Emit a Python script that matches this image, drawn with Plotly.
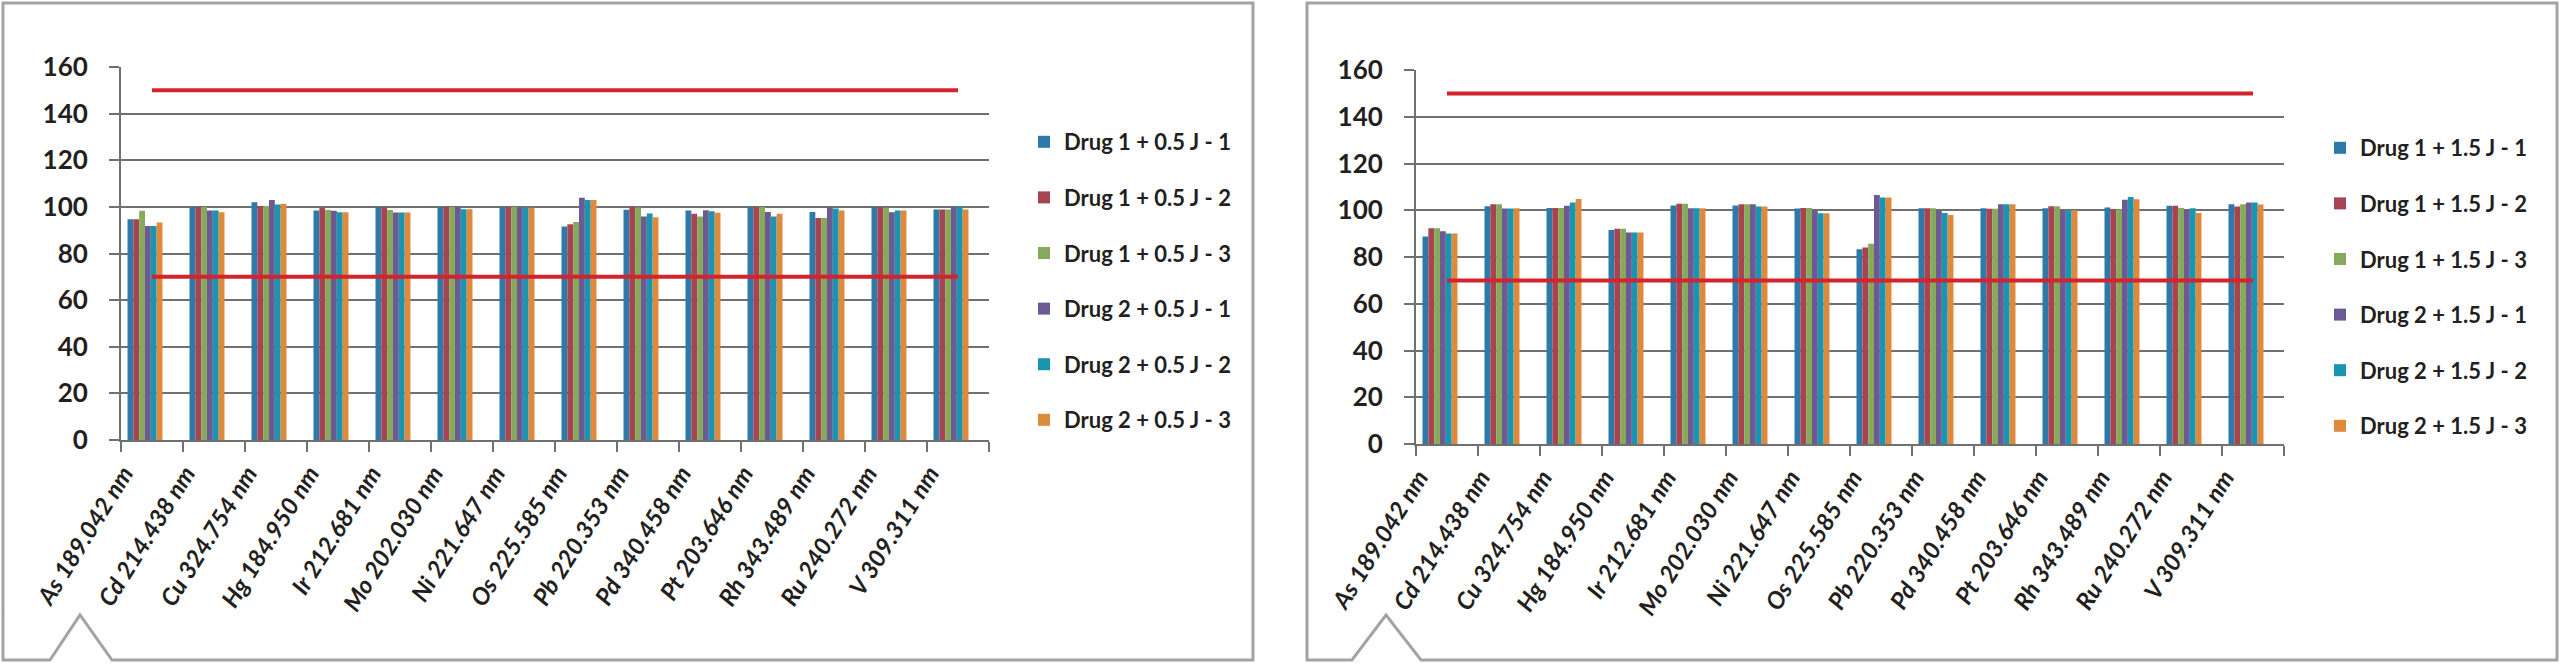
import plotly.graph_objects as go

W, H = 2560, 664

categories = ["As 189.042 nm", "Cd 214.438 nm", "Cu 324.754 nm", "Hg 184.950 nm",
              "Ir 212.681 nm", "Mo 202.030 nm", "Ni 221.647 nm", "Os 225.585 nm",
              "Pb 220.353 nm", "Pd 340.458 nm", "Pt 203.646 nm", "Rh 343.489 nm",
              "Ru 240.272 nm", "V 309.311 nm"]

names_left = ["Drug 1 + 0.5 J - 1", "Drug 1 + 0.5 J - 2", "Drug 1 + 0.5 J - 3",
              "Drug 2 + 0.5 J - 1", "Drug 2 + 0.5 J - 2", "Drug 2 + 0.5 J - 3"]
names_right = ["Drug 1 + 1.5 J - 1", "Drug 1 + 1.5 J - 2", "Drug 1 + 1.5 J - 3",
               "Drug 2 + 1.5 J - 1", "Drug 2 + 1.5 J - 2", "Drug 2 + 1.5 J - 3"]

# left panel (0.5 J)
d1_05_1 = [94.7, 100.0, 102.0, 98.4, 100.0, 100.0, 100.0, 91.6, 98.8, 98.4, 100.0, 97.8, 100.0, 98.9]
d1_05_2 = [94.7, 100.0, 100.4, 99.6, 100.0, 100.0, 100.0, 92.5, 100.0, 97.1, 100.0, 95.2, 100.0, 98.9]
d1_05_3 = [98.3, 100.0, 100.4, 98.7, 98.7, 100.0, 100.0, 93.5, 99.7, 95.9, 100.0, 95.2, 99.6, 98.9]
d2_05_1 = [91.8, 98.4, 103.0, 98.3, 97.6, 100.0, 99.7, 103.9, 95.9, 98.6, 97.8, 100.0, 97.7, 100.0]
d2_05_2 = [91.8, 98.4, 101.0, 97.7, 97.6, 99.0, 99.7, 102.9, 97.2, 98.1, 95.9, 99.3, 98.4, 100.0]
d2_05_3 = [93.3, 97.7, 101.3, 97.7, 97.6, 99.0, 99.6, 102.9, 95.5, 97.5, 97.0, 98.4, 98.4, 98.9]

# right panel (1.5 J)
d1_15_1 = [88.8, 101.7, 101.0, 91.6, 102.0, 102.0, 100.7, 83.3, 100.9, 100.9, 100.9, 101.2, 101.9, 102.6]
d1_15_2 = [92.3, 102.6, 101.0, 92.1, 102.8, 102.6, 101.0, 84.1, 100.9, 100.6, 101.7, 100.3, 101.9, 101.6]
d1_15_3 = [92.3, 102.6, 101.0, 92.1, 102.8, 102.6, 101.0, 85.7, 100.9, 100.6, 101.7, 100.3, 101.0, 102.6]
d2_15_1 = [91.0, 100.7, 101.9, 90.5, 100.9, 102.6, 99.9, 106.5, 99.9, 102.6, 100.0, 104.5, 100.3, 103.3]
d2_15_2 = [90.1, 100.7, 103.3, 90.5, 100.9, 101.6, 98.7, 105.5, 98.8, 102.6, 100.0, 105.7, 100.9, 103.3]
d2_15_3 = [90.1, 100.9, 104.8, 90.5, 100.9, 101.6, 98.7, 105.5, 98.0, 102.6, 100.0, 104.7, 98.8, 102.5]

upper_limit = [150] * len(categories)
lower_limit = [70] * len(categories)

y_ticks = [0, 20, 40, 60, 80, 100, 120, 140, 160]

colors = ["#2D79A9", "#A84351", "#86A95B", "#6D5A94", "#1895B0", "#DF893D"]
red = "#D4232D"
grid = "#707070"
frame = "#A3A3A3"
txt = "#231F20"
FONT = "Lato"

left_series = [d1_05_1, d1_05_2, d1_05_3, d2_05_1, d2_05_2, d2_05_3]
right_series = [d1_15_1, d1_15_2, d1_15_3, d2_15_1, d2_15_2, d2_15_3]

fig = go.Figure()

bw = 0.094
for i, (nm, ys) in enumerate(zip(names_left, left_series)):
    fig.add_trace(go.Bar(x=categories, y=ys, name=nm, marker=dict(color=colors[i], line=dict(width=0)),
                         width=bw, offset=-0.395 + i * bw, xaxis="x", yaxis="y",
                         legend="legend", legendgroup="L%d" % i))
for i, (nm, ys) in enumerate(zip(names_right, right_series)):
    fig.add_trace(go.Bar(x=categories, y=ys, name=nm, marker=dict(color=colors[i], line=dict(width=0)),
                         width=bw, offset=-0.395 + i * bw, xaxis="x2", yaxis="y2",
                         legend="legend2", legendgroup="R%d" % i))

for ax_x, ax_y in (("x", "y"), ("x2", "y2")):
    for lim in (upper_limit, lower_limit):
        fig.add_trace(go.Scatter(x=categories, y=lim, mode="lines", line=dict(color=red, width=4),
                                 xaxis=ax_x, yaxis=ax_y, showlegend=False, hoverinfo="skip"))

def xaxis_cfg(domain, anchor):
    return dict(domain=domain, anchor=anchor, type="category", showgrid=False, automargin=False,
                showline=True, linecolor=grid, linewidth=2,
                ticks="outside", ticklen=10, tickwidth=2, tickcolor=grid, tickson="boundaries",
                tickangle=-58, ticklabelstandoff=8, ticklabelshift=-28,
                tickfont=dict(family=FONT, size=24, color=txt, style="italic", weight="bold"),
                fixedrange=True)

def yaxis_cfg(domain, anchor):
    return dict(domain=domain, anchor=anchor, range=[0, 160], tickvals=y_ticks, automargin=False,
                showgrid=True, gridcolor=grid, gridwidth=2,
                showline=True, linecolor=grid, linewidth=2,
                ticks="outside", ticklen=10, tickwidth=2, tickcolor=grid,
                ticklabelstandoff=16, zeroline=False,
                tickfont=dict(family=FONT, size=26, color=txt, weight="bold"),
                fixedrange=True)

def path_frame(x0, x1, y0, y1, tx0, tx_apex, tx1, ty):
    pts = [(x0, y0), (x1, y0), (x1, y1), (tx1, y1), (tx_apex, ty), (tx0, y1), (x0, y1)]
    s = "M " + " L ".join("%.5f,%.5f" % (px / W, 1 - py / H) for px, py in pts) + " Z"
    return dict(type="path", path=s, xref="paper", yref="paper",
                line=dict(color=frame, width=3), fillcolor="rgba(0,0,0,0)", layer="below")

legend_common = dict(font=dict(family=FONT, size=22, color=txt, weight="bold"),
                     tracegroupgap=24, bgcolor="rgba(0,0,0,0)", borderwidth=0,
                     xanchor="left", yanchor="top", itemclick=False, itemdoubleclick=False)

fig.update_layout(
    width=W, height=H, margin=dict(l=0, r=0, t=0, b=0, autoexpand=False),
    paper_bgcolor="white", plot_bgcolor="rgba(0,0,0,0)",
    barmode="group", showlegend=True,
    xaxis=xaxis_cfg([121 / W, 989 / W], "y"),
    yaxis=yaxis_cfg([1 - 440 / H, 1 - 67 / H], "x"),
    xaxis2=xaxis_cfg([1416 / W, 2284 / W], "y2"),
    yaxis2=yaxis_cfg([1 - 444 / H, 1 - 70 / H], "x2"),
    legend=dict(x=1024 / W, y=1 - 121 / H, **legend_common),
    legend2=dict(x=2320 / W, y=1 - 127 / H, **legend_common),
    shapes=[path_frame(3, 1253, 3, 660, 50, 80, 112, 615),
            path_frame(1307, 2557, 3, 660, 1352, 1386, 1421, 615)],
)

fig.write_html("out.html")
